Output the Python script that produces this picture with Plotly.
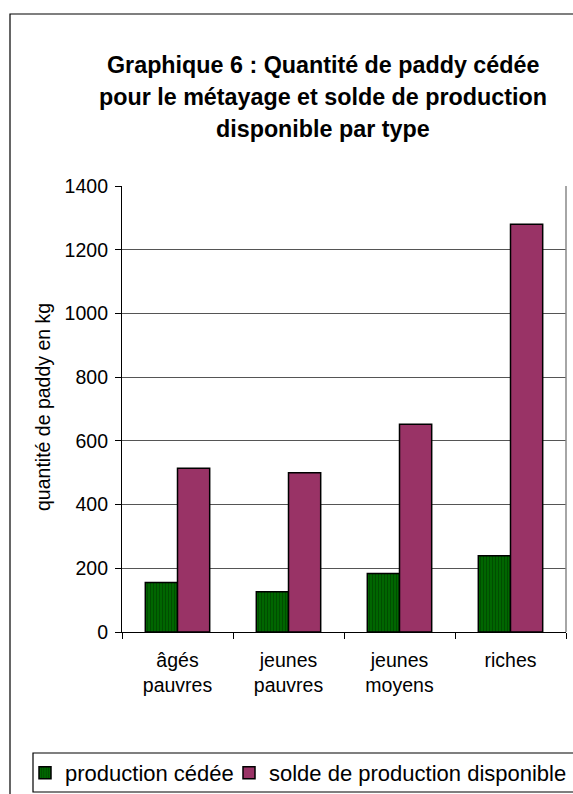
import plotly.graph_objects as go

# Farm household types and paddy quantities (kg)
categories = ["âgés<br>pauvres", "jeunes<br>pauvres", "jeunes<br>moyens", "riches"]
production_cedee = [155, 126, 184, 239]
solde_disponible = [514, 500, 652, 1280]
y_ticks = [0, 200, 400, 600, 800, 1000, 1200, 1400]

title_lines = [
    "Graphique 6 : Quantité de paddy cédée",
    "pour le métayage et solde de production",
    "disponible par type",
]
y_title = "quantité de paddy en kg"
series_names = ["production cédée", "solde de production disponible"]

W, H = 573, 794
L, R, T, B = 122, 7, 186, 162
plot_w = W - L - R
plot_h = H - T - B


def px_x(px):
    return (px - L) / plot_w


def px_y(py):
    return (H - B - py) / plot_h


FONT = "Arial, Liberation Sans, sans-serif"

fig = go.Figure()
fig.add_trace(go.Bar(
    x=categories, y=production_cedee, name=series_names[0],
    marker=dict(
        color="#006600",
        line=dict(color="#000000", width=1.5),
        pattern=dict(shape="|", fgcolor="#003300", bgcolor="#006600",
                     size=3, solidity=0.35),
    ),
    legend="legend", showlegend=True,
))
fig.add_trace(go.Bar(
    x=categories, y=solde_disponible, name=series_names[1],
    marker=dict(color="#993366", line=dict(color="#000000", width=1.5)),
    legend="legend2", showlegend=True,
))

annotations = []
for i, line in enumerate(title_lines):
    annotations.append(dict(
        text=f"<b>{line}</b>", x=px_x(323), y=px_y(65 + 32 * i),
        xref="paper", yref="paper", showarrow=False,
        xanchor="center", yanchor="middle",
        font=dict(family=FONT, size=23.3, color="#000000"),
    ))
annotations.append(dict(
    text=y_title, x=px_x(43), y=px_y(407), xref="paper", yref="paper",
    showarrow=False, textangle=-90, xanchor="center", yanchor="middle",
    font=dict(family=FONT, size=19.5, color="#000000"),
))

shapes = [
    # outer chart frame
    dict(type="rect", xref="paper", yref="paper",
         x0=px_x(10), x1=px_x(650), y0=px_y(14), y1=px_y(820),
         line=dict(color="#000000", width=1.2), fillcolor="rgba(0,0,0,0)",
         layer="below"),
    # right edge of the plot area
    dict(type="line", xref="paper", yref="paper", x0=1, x1=1, y0=0, y1=1,
         line=dict(color="#888888", width=1.5)),
    # legend box
    dict(type="rect", xref="paper", yref="paper",
         x0=px_x(33), x1=px_x(650), y0=px_y(753), y1=px_y(792),
         line=dict(color="#000000", width=1.2), fillcolor="rgba(0,0,0,0)"),
]

legend_style = dict(
    orientation="h", yanchor="middle", xanchor="left",
    font=dict(family=FONT, size=22, color="#000000"),
    bgcolor="rgba(0,0,0,0)", borderwidth=0,
)

fig.update_layout(
    width=W, height=H,
    margin=dict(l=L, r=R, t=T, b=B, autoexpand=False),
    paper_bgcolor="#ffffff", plot_bgcolor="#ffffff",
    barmode="group", bargap=0.42, bargroupgap=0,
    showlegend=True,
    font=dict(family=FONT, size=19.5, color="#000000"),
    annotations=annotations,
    shapes=shapes,
    legend=dict(x=px_x(25), y=px_y(773), **legend_style),
    legend2=dict(x=px_x(229), y=px_y(773), **legend_style),
    xaxis=dict(
        type="category", range=[-0.5, 3.5], tickson="boundaries",
        ticks="outside", ticklen=6, tickcolor="#000000", tickwidth=1,
        ticklabelstandoff=10,
        showline=True, linecolor="#000000", linewidth=1.2,
        showgrid=False, tickfont=dict(family=FONT, size=19.5),
        fixedrange=True,
    ),
    yaxis=dict(
        range=[0, 1400], tickvals=y_ticks, ticks="outside", ticklen=6,
        ticklabelstandoff=3,
        tickcolor="#000000", showline=True, linecolor="#000000",
        linewidth=1.2, showgrid=True, gridcolor="#555555", gridwidth=1,
        zeroline=False, tickfont=dict(family=FONT, size=19.5),
        fixedrange=True,
    ),
)

fig.write_html("out.html", config={"displayModeBar": False})
